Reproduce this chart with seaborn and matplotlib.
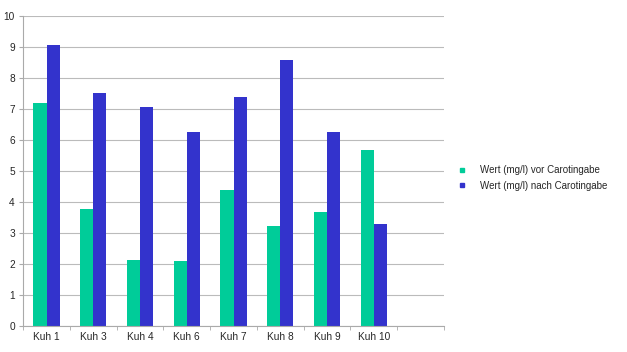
import pandas as pd
import seaborn as sns
import matplotlib.pyplot as plt
from matplotlib.lines import Line2D

kuehe = ["Kuh 1", "Kuh 3", "Kuh 4", "Kuh 6", "Kuh 7", "Kuh 8", "Kuh 9", "Kuh 10"]
vor = [7.2, 3.78, 2.14, 2.11, 4.39, 3.23, 3.68, 5.68]
nach = [9.05, 7.52, 7.05, 6.26, 7.37, 8.56, 6.26, 3.29]
serien = ["Wert (mg/l) vor Carotingabe", "Wert (mg/l) nach Carotingabe"]
farben = ["#00CC99", "#3333CC"]

df = pd.DataFrame({
    "Kuh": kuehe * 2,
    "Wert": vor + nach,
    "Serie": [serien[0]] * len(kuehe) + [serien[1]] * len(kuehe),
})

sns.set_style("white")
plt.rcParams["font.family"] = ["Liberation Sans", "DejaVu Sans"]

fig = plt.figure(figsize=(6.27, 3.52), dpi=100)
ax = fig.add_axes([0.037, 0.074, 0.671, 0.881])

sns.barplot(data=df, x="Kuh", y="Wert", hue="Serie", order=kuehe,
            palette=farben, width=0.56, saturation=1, linewidth=0, ax=ax)

# leerer 9. Platz rechts wie im Original
ax.set_xlim(-0.5, len(kuehe) + 0.5)
ax.set_ylim(0, 10)
ax.set_yticks(range(0, 11))
ax.set_xlabel("")
ax.set_ylabel("")

ax.grid(axis="y", color="#bbbbbb", linewidth=0.8)
ax.set_axisbelow(True)
for s in ["top", "right"]:
    ax.spines[s].set_visible(False)
for s in ["left", "bottom"]:
    ax.spines[s].set_color("#aaaaaa")
    ax.spines[s].set_linewidth(0.8)

ax.set_xticks([i - 0.5 for i in range(len(kuehe) + 2)], minor=True)
ax.tick_params(axis="x", which="major", length=0, labelsize=7.3, pad=4)
ax.tick_params(axis="x", which="minor", length=3, color="#aaaaaa", direction="out")
ax.tick_params(axis="y", length=3, color="#aaaaaa", labelsize=7.3, pad=3)
ax.tick_params(bottom=True, left=True, which="both")

ax.legend_.remove()
handles = [Line2D([], [], marker="s", linestyle="", color=c, markersize=3.5) for c in farben]
fig.legend(handles, serien, loc="center left", bbox_to_anchor=(0.707, 0.494),
           frameon=False, fontsize=7, handletextpad=0.9, labelspacing=0.55)

fig.savefig("out.png", dpi=100)
